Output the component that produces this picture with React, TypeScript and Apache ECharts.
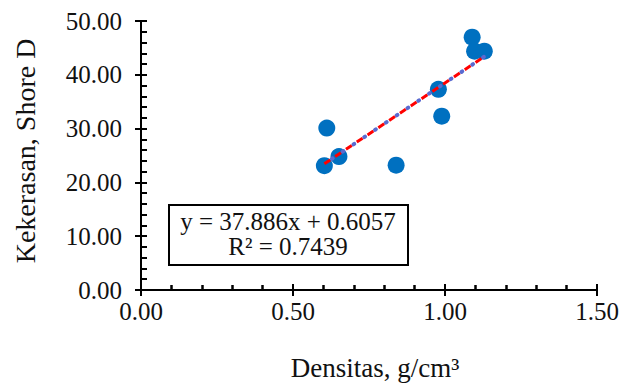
import React, { useEffect, useRef } from "react";
import * as echarts from "echarts";

const densitas = [0.603, 0.611, 0.651, 0.839, 0.978, 0.989, 1.089, 1.097, 1.129];
const kekerasan = [23.1, 30.1, 24.8, 23.2, 37.3, 32.3, 47.0, 44.4, 44.4];
const slope = 37.886;
const intercept = 0.6057;
const equationLines = ["y = 37.886x + 0.6057", "R² = 0.7439"];
const xTitle = "Densitas, g/cm³";
const yTitle = "Kekerasan, Shore D";

const FONT = "'Liberation Serif', 'Times New Roman', serif";

export default function App() {
  const ref = useRef<HTMLDivElement>(null);
  useEffect(() => {
    if (!ref.current) return;
    const chart = echarts.init(ref.current, undefined, { renderer: "svg" });
    const points = densitas.map((x, i) => [x, kekerasan[i]]);
    const xMin = Math.min(...densitas);
    const xMax = Math.max(...densitas);
    const trend = [
      [xMin, slope * xMin + intercept],
      [xMax, slope * xMax + intercept],
    ];
    const labelStyle = { color: "#111", fontFamily: FONT, fontSize: 25 };
    const fmt = (v: number) => v.toFixed(2);
    chart.setOption({
      animation: false,
      grid: { left: 141, right: 21, top: 21, bottom: 96, containLabel: false },
      xAxis: [
        {
          type: "value", min: 0, max: 1.5, interval: 0.5, position: "bottom",
          axisLine: { lineStyle: { color: "#000", width: 2 } },
          axisTick: { inside: true, length: 6, lineStyle: { color: "#000", width: 2 } },
          minorTick: { show: true, splitNumber: 5, length: 5, lineStyle: { color: "#000", width: 2.5 } },
          splitLine: { show: false },
          axisLabel: { ...labelStyle, margin: 9, formatter: fmt },
        },
        {
          type: "value", min: 0, max: 1.5, interval: 0.5, position: "bottom", offset: 0,
          axisLine: { show: false },
          axisTick: { show: true, inside: false, length: 6, lineStyle: { color: "#000", width: 2 } },
          splitLine: { show: false },
          axisLabel: { show: false },
        },
      ],
      yAxis: [
        {
          type: "value", min: 0, max: 50, interval: 10, position: "left",
          axisLine: { show: true, lineStyle: { color: "#000", width: 2 } },
          axisTick: { show: true, inside: true, length: 6, lineStyle: { color: "#000", width: 2 } },
          minorTick: { show: true, splitNumber: 5, length: 6, lineStyle: { color: "#000", width: 2 } },
          splitLine: { show: false },
          axisLabel: { ...labelStyle, margin: 19, formatter: fmt },
        },
        {
          type: "value", min: 0, max: 50, interval: 10, position: "left", offset: 0,
          axisLine: { show: false },
          axisTick: { show: true, inside: false, length: 6, lineStyle: { color: "#000", width: 2 } },
          splitLine: { show: false },
          axisLabel: { show: false },
        },
      ],
      series: [
        {
          type: "scatter", data: points, symbolSize: 17, xAxisIndex: 0, yAxisIndex: 0,
          itemStyle: { color: "#0070C0", opacity: 1 }, z: 2,
        },
        {
          type: "line", data: trend, showSymbol: false, xAxisIndex: 0, yAxisIndex: 0, z: 3,
          lineStyle: { color: "#5A6AD0", width: 4, type: [1, 12], cap: "round", dashOffset: 4 },
        },
        {
          type: "line", data: trend, showSymbol: false, xAxisIndex: 0, yAxisIndex: 0, z: 4,
          lineStyle: { color: "#FF0000", width: 3, type: [7, 6] },
        },
      ],
      graphic: [
        {
          type: "text", x: 375, y: 368,
          style: { text: xTitle, fill: "#111", font: `27px ${FONT}`, textAlign: "center", textVerticalAlign: "middle" },
        },
        {
          type: "text", x: 25, y: 151, rotation: Math.PI / 2,
          style: { text: yTitle, fill: "#111", font: `28px ${FONT}`, textAlign: "center", textVerticalAlign: "middle" },
        },
        {
          type: "rect", shape: { x: 169, y: 205, width: 239, height: 60 },
          style: { fill: "#fff", stroke: "#000", lineWidth: 2 }, z: 10,
        },
        {
          type: "text", x: 288, y: 221, z: 11,
          style: { text: equationLines[0], fill: "#111", font: `25px ${FONT}`, textAlign: "center", textVerticalAlign: "middle" },
        },
        {
          type: "text", x: 288, y: 246, z: 11,
          style: { text: equationLines[1], fill: "#111", font: `25px ${FONT}`, textAlign: "center", textVerticalAlign: "middle" },
        },
      ],
    });
    return () => chart.dispose();
  }, []);
  return <div ref={ref} style={{ position: "fixed", left: 0, top: 0, width: 622, height: 386, background: "#fff" }} />;
}
